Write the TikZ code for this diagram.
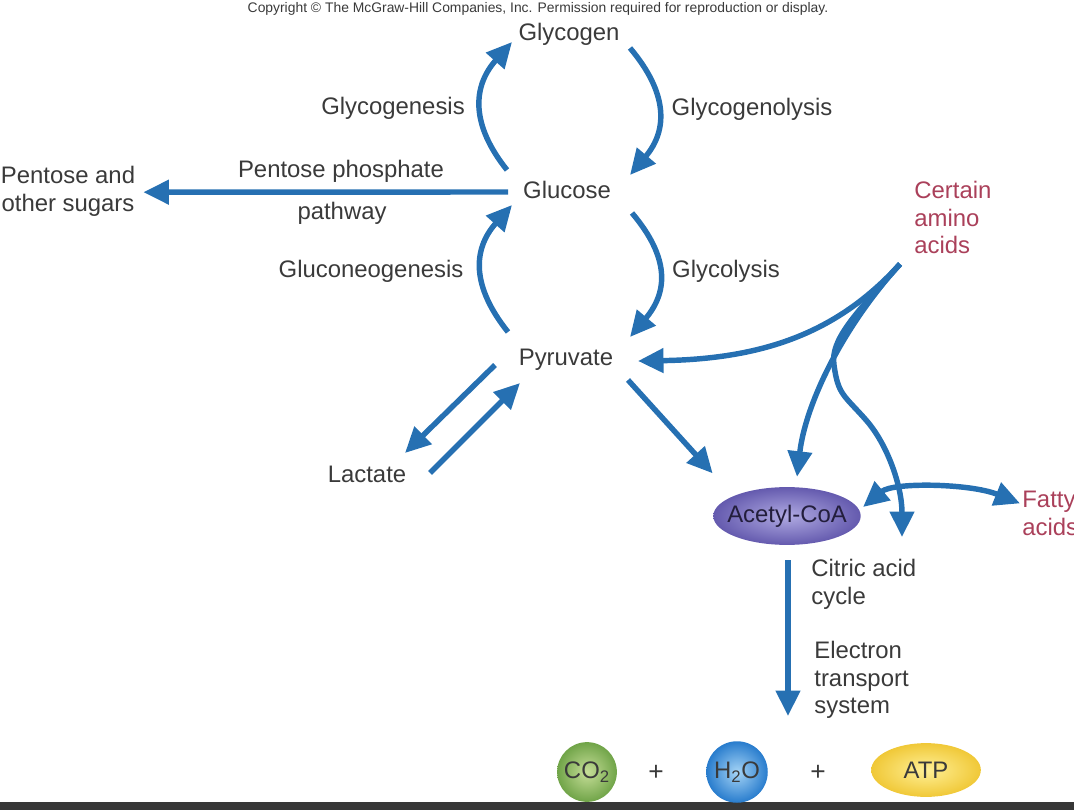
\documentclass[tikz,border=0pt]{standalone}
\usepackage{fontspec}
\setmainfont{Liberation Sans}
\usetikzlibrary{arrows.meta,shapes.geometric}
\definecolor{flowblue}{RGB}{38,112,178}
\definecolor{txtgray}{RGB}{58,58,58}
\definecolor{aminored}{RGB}{170,64,90}
\definecolor{barcol}{RGB}{55,55,55}

\begin{document}
\begin{tikzpicture}[x=0.02cm,y=-0.02cm,
    bigtip/.tip={Triangle[length=14.5pt,width=13.5pt]},
    lab/.style={text=txtgray,font=\fontsize{13.6}{15.6}\selectfont,inner sep=0pt},
    flow/.style={draw=flowblue,line width=3.1pt,-bigtip},
    ball/.style={circle,minimum size=34pt,inner sep=0pt,shade,text=txtgray,
        font=\fontsize{13.6}{15.6}\selectfont}]
\useasboundingbox (0,0) rectangle (1074,810);
\fill[barcol] (0,802) rectangle (1074,810);

\node (cr) [lab,anchor=base,font=\fontsize{7.9}{9}\selectfont] at (538,13)
    {Copyright \textcopyright{} The McGraw-Hill Companies, Inc. Permission required for reproduction or display.};
\node (gn) [lab,anchor=base] at (569,41) {Glycogen};
\node (gc) [lab,anchor=base] at (567,199) {Glucose};
\node (pv) [lab,anchor=base] at (566,366) {Pyruvate};
\node (lc) [lab,anchor=base] at (367,482) {Lactate};
\node (gg) [lab,anchor=base] at (393,115) {Glycogenesis};
\node (gl) [lab,anchor=base] at (752,116) {Glycogenolysis};
\node (ng) [lab,anchor=base] at (371,278) {Gluconeogenesis};
\node (gy) [lab,anchor=base] at (726,278) {Glycolysis};
\node (pp) [lab,anchor=base] at (341,178) {Pentose phosphate};
\node (pw) [lab,anchor=base] at (342,220) {pathway};
\node (sg) [lab,align=center,anchor=north] at (68,166) {Pentose and\\other sugars};
\node (am) [lab,text=aminored,align=left,anchor=north west] at (914,181) {Certain\\amino\\acids};
\node (ac) [ellipse,minimum width=83.9pt,minimum height=32.9pt,inner sep=0pt,shade,
    inner color={rgb,255:red,176;green,170;blue,226},outer color={rgb,255:red,100;green,90;blue,174},
    label={[text={rgb,255:red,35;green,30;blue,60},font=\fontsize{13.6}{15.6}\selectfont]center:Acetyl-CoA}]
    at (787,516) {};
\node (fa) [lab,text=aminored,align=left,anchor=north west] at (1022,491) {Fatty\\acids};
\node (ca) [lab,align=left,anchor=north west] at (811,559) {Citric acid\\cycle};
\node (et) [lab,align=left,anchor=north west] at (814,641) {Electron\\transport\\system};
\node (co) [ball,inner color={rgb,255:red,198;green,222;blue,152},outer color={rgb,255:red,112;green,164;blue,72}]
    at (587,772) {CO\textsubscript{2}};
\node (p1) [lab,font=\fontsize{15}{16}\selectfont] at (656,773) {+};
\node (hw) [ball,minimum size=35pt,inner color={rgb,255:red,165;green,212;blue,246},outer color={rgb,255:red,40;green,124;blue,205}]
    at (737,772) {H\textsubscript{2}O};
\node (p2) [lab,font=\fontsize{15}{16}\selectfont] at (818,773) {+};
\node (atp) [ellipse,minimum width=62.4pt,minimum height=30.6pt,inner sep=0pt,shade,
    inner color={rgb,255:red,255;green,240;blue,150},outer color={rgb,255:red,240;green,200;blue,55},
    text=txtgray,font=\fontsize{13.6}{15.6}\selectfont] at (926,770) {ATP};
\coordinate (cyc) at (902,537);
\coordinate (ets) at (788,716);

\draw[flow] ([shift={(-60,-29)}]gc.base) .. controls +(-36,-45) and +(-40,45) .. ([shift={(-57,1)}]gn.base);
\draw[flow] ([shift={(61,7)}]gn.base) .. controls +(38,45) and +(38,-45) .. ([shift={(63,-24)}]gc.base);
\draw[flow] ([shift={(-58,-34)}]pv.base) .. controls +(-36,-45) and +(-40,45) .. ([shift={(-55,6)}]gc.base);
\draw[flow] ([shift={(65,14)}]gc.base) .. controls +(38,45) and +(38,-45) .. ([shift={(64,-29)}]pv.base);
\draw[flow] ([shift={(-59,-7)}]gc.base) -- ([shift={(8,1)}]sg.east);
\draw[flow] ([shift={(-71,-1)}]pv.base) -- ([shift={(38,-29)}]lc.base);
\draw[flow] ([shift={(63,-9)}]lc.base) -- ([shift={(-46,17)}]pv.base);
\draw[flow] ([shift={(62,14)}]pv.base) -- ([shift={(-22,-22)}]ac.north west);
\draw[flow,bigtip-bigtip] ([shift={(2,-9)}]ac.east) .. controls +(30,-25) and +(-50,-20) .. ([shift={(-2,-10)}]fa.west);
\draw[flow] ([shift={(-14,10)}]am.south west) .. controls +(-60,66) and +(130,-2) .. ([shift={(72,-5)}]pv.base);
\draw[flow] ([shift={(-14,10)}]am.south west) .. controls +(-60,66) and +(8,-70) .. ([shift={(10,-10)}]ac.north);
\draw[flow] ([shift={(-14,10)}]am.south west) .. controls +(-45,50) and +(-4,-25) .. (834,365)
    .. controls +(4,30) and +(-22,-25) .. (866,420) .. controls +(22,25) and +(0,-50) .. (cyc);
\draw[flow] ([shift={(1,15)}]ac.south) -- (ets);
\end{tikzpicture}
\end{document}
